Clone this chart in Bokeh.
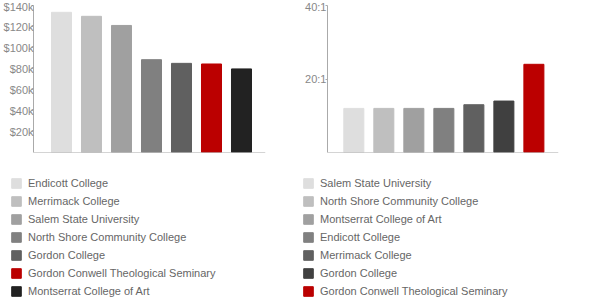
from bokeh.plotting import figure
from bokeh.models import ColumnDataSource, FixedTicker, Span, Legend, LegendItem, Range1d
from bokeh.layouts import row, column
from bokeh.embed import file_html
from bokeh.resources import INLINE

# Left chart: salary
sal_names = ["Endicott College", "Merrimack College", "Salem State University",
             "North Shore Community College", "Gordon College",
             "Gordon Conwell Theological Seminary", "Montserrat College of Art"]
sal_values = [133500, 129700, 121000, 88400, 84900, 84300, 79600]
sal_colors = ["#dedede", "#bfbfbf", "#a0a0a0", "#808080", "#606060", "#bb0000", "#222222"]
sal_ticks = [20000, 40000, 60000, 80000, 100000, 120000, 140000]
sal_tick_labels = ["$20k", "$40k", "$60k", "$80k", "$100k", "$120k", "$140k"]

# Right chart: student-faculty ratio
rat_names = ["Salem State University", "North Shore Community College",
             "Montserrat College of Art", "Endicott College", "Merrimack College",
             "Gordon College", "Gordon Conwell Theological Seminary"]
rat_values = [12, 12, 12, 12, 13, 14, 24]
rat_colors = ["#dedede", "#bfbfbf", "#a0a0a0", "#808080", "#606060", "#404040", "#bb0000"]
rat_ticks = [20, 40]
rat_tick_labels = ["20:1", "40:1"]

FONT = "Liberation Sans"


def make_chart(names, values, colors, ticks, tick_labels, ymax, border_left, border_right,
               x_start, x_end, standoff, legend_x):
    src = ColumnDataSource(dict(x=list(range(len(names))), top=values, color=colors, name=names))
    p = figure(width=300, height=160, output_backend="svg", toolbar_location=None,
               x_range=Range1d(x_start, x_end), y_range=Range1d(0, ymax),
               x_axis_location=None,
               min_border_left=border_left, min_border_right=border_right,
               min_border_top=5, min_border_bottom=8)
    p.vbar(x="x", top="top", width=0.667, color="color", source=src)
    p.xgrid.visible = False
    p.ygrid.visible = False
    p.outline_line_color = None
    ax = p.yaxis[0]
    ax.ticker = FixedTicker(ticks=ticks)
    ax.major_label_overrides = {t: l for t, l in zip(ticks, tick_labels)}
    ax.major_label_text_font = FONT
    ax.major_label_text_font_size = "11px"
    ax.major_label_text_color = "#888888"
    ax.major_label_standoff = standoff
    ax.major_tick_out = 2
    ax.major_tick_in = 0
    ax.minor_tick_out = 0
    ax.minor_tick_in = 0
    ax.axis_line_color = "#aaaaaa"
    ax.major_tick_line_color = "#aaaaaa"
    p.add_layout(Span(location=0, dimension="width", line_color="#aaaaaa", line_width=1))

    # legend panel: the same data as an invisible renderer, shown only in the legend
    lf = figure(width=300, height=140, output_backend="svg", toolbar_location=None,
                x_range=Range1d(0, 1), y_range=Range1d(0, 1),
                x_axis_location=None, y_axis_location=None,
                min_border_left=0, min_border_right=0, min_border_top=0, min_border_bottom=0)
    lr = lf.vbar(x="x", top="top", width=0.667, color="color", source=src, visible=False)
    lf.grid.visible = False
    lf.outline_line_color = None
    items = [LegendItem(label=n, renderers=[lr], index=i) for i, n in enumerate(names)]
    legend = Legend(items=items, location=(legend_x, 3),
                    glyph_width=12, glyph_height=12, label_height=12,
                    spacing=6, label_standoff=6, padding=0, margin=0,
                    label_text_font=FONT, label_text_font_size="11px",
                    label_text_color="#666666", border_line_color=None,
                    background_fill_alpha=0)
    lf.add_layout(legend, "center")
    return column(p, row(lf), spacing=0)


c1 = make_chart(sal_names, sal_values, sal_colors, sal_ticks, sal_tick_labels, 140000,
                33, 35, -0.933, 6.8, -2, 10)
c2 = make_chart(rat_names, rat_values, rat_colors, rat_ticks, rat_tick_labels, 40,
                27, 42, -0.877, 6.82, -1, 2)

layout = row(c1, c2, spacing=0)
open("out.html", "w").write(file_html(layout, INLINE))
